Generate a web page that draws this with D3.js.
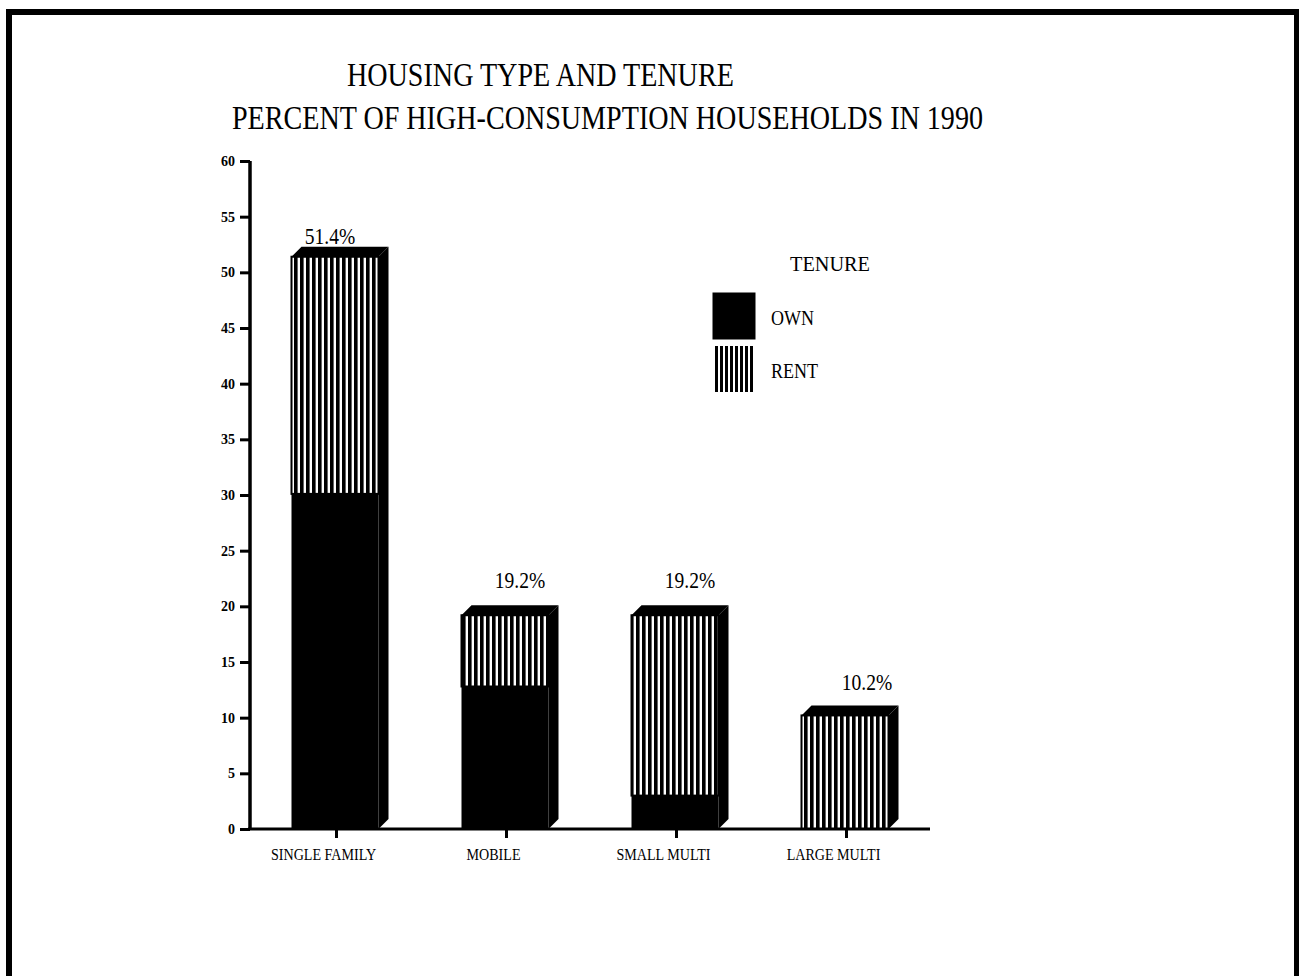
<!DOCTYPE html>
<html>
<head>
<meta charset="utf-8">
<script src="https://cdn.jsdelivr.net/npm/d3@7"></script>
<style>
  body { margin: 0; background: #fff; }
  svg { display: block; }
  text { font-family: "Liberation Serif", "Times New Roman", serif; fill: #000; }
</style>
</head>
<body>
<svg id="chart" width="1299" height="976"></svg>
<script>
// Housing type categories and tenure split (percent of high-consumption households, 1990)
const categories = ["SINGLE FAMILY", "MOBILE", "SMALL MULTI", "LARGE MULTI"];
const ownValues  = [30.1, 12.8, 3.0, 0.0];
const rentValues = [21.3, 6.4, 16.2, 10.2];
const yTickValues = [0, 5, 10, 15, 20, 25, 30, 35, 40, 45, 50, 55, 60];
const legendLabels = ["OWN", "RENT"];
const titleLines = ["HOUSING TYPE AND TENURE", "PERCENT OF HIGH-CONSUMPTION HOUSEHOLDS IN 1990"];

// small per-bar nudges for the total labels
const labelShiftX = [-4, 16, 16, 23];
const labelGap = [3, 17, 17, 15];

const svg = d3.select("#chart");
const totals = categories.map((c, i) => ownValues[i] + rentValues[i]);

// squeeze text horizontally, like a condensed face
function condense(sel, factor) {
  sel.each(function () {
    const w = this.getComputedTextLength();
    d3.select(this).attr("textLength", w * factor).attr("lengthAdjust", "spacingAndGlyphs");
  });
}

// page frame
svg.append("rect")
  .attr("x", 9).attr("y", 12).attr("width", 1288).attr("height", 1000)
  .attr("fill", "none").attr("stroke", "#000").attr("stroke-width", 6);

// patterns
const defs = svg.append("defs");
const barPat = defs.append("pattern")
  .attr("id", "stripes").attr("patternUnits", "userSpaceOnUse")
  .attr("width", 6).attr("height", 10);
barPat.append("rect").attr("width", 6).attr("height", 10).attr("fill", "#fff");
barPat.append("rect").attr("x", 0).attr("width", 3.6).attr("height", 10).attr("fill", "#000");

const legPat = defs.append("pattern")
  .attr("id", "stripesSmall").attr("patternUnits", "userSpaceOnUse")
  .attr("width", 5).attr("height", 10);
legPat.append("rect").attr("width", 5).attr("height", 10).attr("fill", "#fff");
legPat.append("rect").attr("x", 0).attr("width", 3).attr("height", 10).attr("fill", "#000");

// title: both lines share one size and squeeze
const t2 = svg.append("text").attr("x", 232).attr("y", 129)
  .attr("font-size", 33).text(titleLines[1]);
const squeeze = 751 / t2.node().getComputedTextLength();
t2.call(condense, squeeze);
svg.append("text").attr("x", 347).attr("y", 86)
  .attr("font-size", 33).text(titleLines[0])
  .call(condense, squeeze);

// scales
const x = d3.scalePoint().domain(categories).range([249, 929]).padding(0.5);
const y = d3.scaleLinear().domain([0, 60]).range([829, 161]);
const barW = 87;
const depth = 10;

// bars
const bars = svg.append("g");
categories.forEach((c, i) => {
  const x0 = x(c) - barW / 2 + 1;
  const x1 = x0 + barW;
  const yTop = y(totals[i]);
  const yOwn = y(ownValues[i]);
  const yBase = y(0);
  const g = bars.append("g");
  // side face
  g.append("path")
    .attr("d", `M${x1},${yTop} L${x1 + depth},${yTop - depth} L${x1 + depth},${yBase - depth} L${x1},${yBase} Z`)
    .attr("fill", "#000");
  // top face
  g.append("path")
    .attr("d", `M${x0},${yTop} L${x0 + depth},${yTop - depth} L${x1 + depth},${yTop - depth} L${x1},${yTop} Z`)
    .attr("fill", "#000");
  // rent segment (striped)
  g.append("rect")
    .attr("x", x0).attr("y", yTop).attr("width", barW).attr("height", yOwn - yTop)
    .attr("fill", "url(#stripes)").attr("stroke", "#000").attr("stroke-width", 2);
  // own segment (solid)
  if (ownValues[i] > 0) {
    g.append("rect")
      .attr("x", x0).attr("y", yOwn).attr("width", barW).attr("height", yBase - yOwn)
      .attr("fill", "#000");
  }
  // total label
  g.append("text")
    .attr("x", x(c) + labelShiftX[i])
    .attr("y", yTop - depth - labelGap[i])
    .attr("text-anchor", "middle")
    .attr("font-size", 23)
    .text(totals[i].toFixed(1) + "%")
    .call(condense, 0.85);
});

// y axis
const yAxis = svg.append("g").attr("transform", "translate(250,0)")
  .call(d3.axisLeft(y).tickValues(yTickValues).tickSize(10).tickPadding(5).tickFormat(d3.format("d")));
yAxis.select(".domain").attr("d", `M0,${y(60)}V${y(0)}`).attr("stroke", "#000").attr("stroke-width", 3.5);
yAxis.selectAll(".tick line").attr("stroke", "#000").attr("stroke-width", 3);
yAxis.selectAll(".tick text")
  .attr("font-family", "'Liberation Serif', 'Times New Roman', serif")
  .attr("font-size", 14).attr("font-weight", "bold").attr("fill", "#000");

// x axis
const xAxis = svg.append("g").attr("transform", `translate(0,${y(0)})`)
  .call(d3.axisBottom(x).tickSize(9).tickPadding(11));
xAxis.select(".domain").attr("d", "M248,0H930").attr("stroke", "#000").attr("stroke-width", 3);
xAxis.selectAll(".tick line").attr("stroke", "#000").attr("stroke-width", 3)
  .attr("transform", "translate(2,0)");
xAxis.selectAll(".tick text")
  .attr("font-family", "'Liberation Serif', 'Times New Roman', serif")
  .attr("font-size", 16).attr("fill", "#000")
  .attr("dx", -11)
  .attr("dy", "0.71em")
  .call(condense, 0.88);

// legend
const legend = svg.append("g");
legend.append("text").attr("x", 790).attr("y", 271).attr("font-size", 21)
  .text("TENURE").attr("textLength", 80).attr("lengthAdjust", "spacingAndGlyphs");
const legFills = ["#000", "url(#stripesSmall)"];
const legY = [293, 346];
legendLabels.forEach((lab, i) => {
  legend.append("rect")
    .attr("x", 713).attr("y", legY[i]).attr("width", 42).attr("height", 46)
    .attr("fill", legFills[i]).attr("stroke", "#000").attr("stroke-width", i ? 0 : 1);
  legend.append("text")
    .attr("x", 771).attr("y", legY[i] + 32).attr("font-size", 20)
    .text(lab).call(condense, 0.9);
});
</script>
</body>
</html>
